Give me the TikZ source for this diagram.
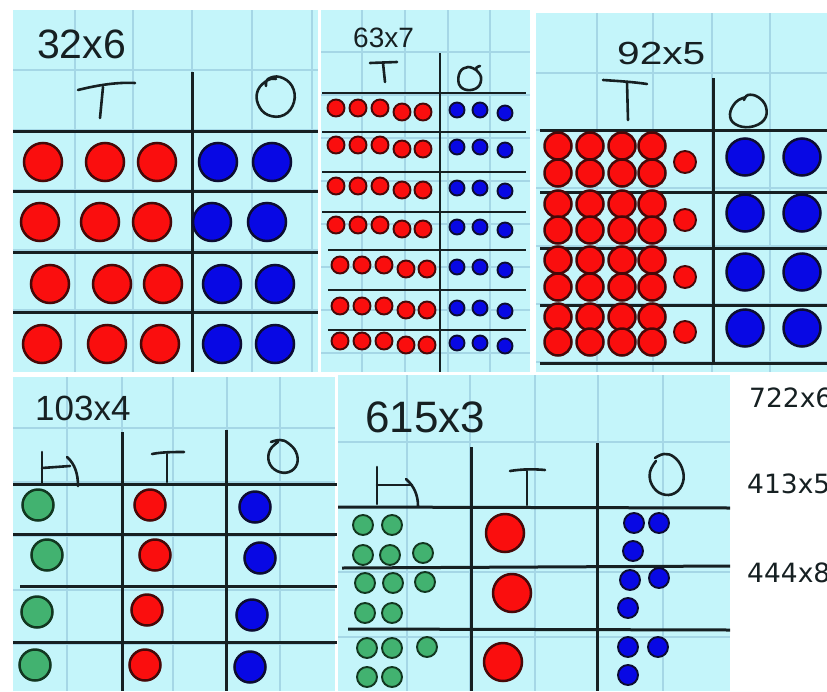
\documentclass[tikz,border=0pt]{standalone}
\usepackage{fontspec}
\setmainfont{Liberation Sans}
\newfontfamily\dvfont{DejaVu Sans}
\definecolor{bgc}{RGB}{196,245,250}
\definecolor{gridc}{RGB}{165,215,230}
\definecolor{inkc}{RGB}{22,32,34}
\definecolor{redf}{RGB}{250,14,14}
\definecolor{redo}{RGB}{70,8,8}
\definecolor{bluef}{RGB}{8,8,228}
\definecolor{blueo}{RGB}{12,12,50}
\definecolor{greenf}{RGB}{66,178,112}
\definecolor{greeno}{RGB}{18,55,32}
\tikzset{
  panel/.style={fill=bgc, draw=none},
  gridl/.style={draw=gridc, line width=1.2pt},
  rule/.style={draw=inkc, line width=3pt},
  thinrule/.style={draw=inkc, line width=2.4pt},
  hand/.style={draw=inkc, line width=2.6pt, line cap=round, line join=round},
  rdot/.style={fill=redf, draw=redo, line width=2.5pt},
  bdot/.style={fill=bluef, draw=blueo, line width=2.5pt},
  gdot/.style={fill=greenf, draw=greeno, line width=2.5pt},
  smalldot/.style={line width=1.9pt},
  lbl/.style={anchor=base west, inner sep=0, text=inkc},
}
\begin{document}
\begin{tikzpicture}[x=1pt,y=-1pt]
\useasboundingbox (0,0) rectangle (827,691);
\clip (0,0) rectangle (827,691);
\fill[white] (0,0) rectangle (827,691);

% ---------------- Panel A : 32x6 ----------------
\fill[panel] (13,10) rectangle (318,372);
\begin{scope}
  \clip (13,10) rectangle (318,372);
  \foreach \x in {75,133,192,252,312} \draw[gridl] (\x,10) -- (\x,372);
  \foreach \y in {70,130,190,250,310} \draw[gridl] (13,\y) -- (318,\y);
\end{scope}
\node[lbl, font=\fontsize{41}{41}\selectfont] (atitle) at (37,58) {32x6};
\draw[rule] (192,72) -- (192,372);
\foreach \y in {131,191,252,312} \draw[rule] (13,\y) -- (318,\y);
\draw[hand] (78,90) .. controls (98,85) and (118,82) .. (135,83);
\draw[hand] (103,87) -- (100,118);
\draw[hand] plot[smooth, tension=0.7] coordinates {(266,86) (268,79) (280,77) (292,86) (294,102) (284,115) (268,115) (258,104) (258,90) (268,80) (276,79)};
\foreach \x/\y in {43/162,105/162,157/162, 40/222,100/222,152/222, 50/284,112/284,163/284, 42/344,107/344,160/344}
  \draw[rdot] (\x,\y) circle (19pt);
\foreach \x/\y in {218/162,272/162, 212/222,267/222, 222/284,275/284, 222/344,275/344}
  \draw[bdot] (\x,\y) circle (19pt);

% ---------------- Panel B : 63x7 ----------------
\fill[panel] (321,10) rectangle (530,372);
\begin{scope}
  \clip (321,10) rectangle (530,372);
  \foreach \x in {362,405,448,490} \draw[gridl] (\x,10) -- (\x,372);
  \foreach \y in {52,95,138,181,224,267,310,353} \draw[gridl] (321,\y) -- (530,\y);
\end{scope}
\node[lbl, font=\fontsize{28}{28}\selectfont] (btitle) at (353,47) {63x7};
\draw[thinrule] (440,53) -- (440,372);
\foreach \y in {93,132,172,212} \draw[thinrule] (322,\y) -- (526,\y);
\foreach \y in {250,290,330} \draw[thinrule] (328,\y) -- (526,\y);
\draw[hand] (370,63) -- (397,62);
\draw[hand] (383,63) -- (385,82);
\draw[hand] plot[smooth, tension=0.7] coordinates {(476,70) (468,67) (460,72) (459,84) (467,90) (478,87) (481,77) (476,69) (480,66)};
\foreach \y/\s in {110/0,147/0,188/0,227/0,267/4,308/4,343/4} {
  \foreach \x in {336,358,380} \draw[rdot, smalldot] (\x+\s,\y-2) circle (8.5pt);
  \foreach \x in {402,423} \draw[rdot, smalldot] (\x+\s,\y+2) circle (8.5pt);
  \foreach \x in {457,480} \draw[bdot, smalldot] (\x,\y) circle (7.5pt);
  \draw[bdot, smalldot] (505,\y+3) circle (7.5pt);
}

% ---------------- Panel C : 92x5 ----------------
\fill[panel] (536,13) rectangle (827,372);
\begin{scope}
  \clip (536,13) rectangle (827,372);
  \foreach \x in {597,653,712,770} \draw[gridl] (\x,13) -- (\x,372);
  \foreach \y in {73,130,188,246,304,362} \draw[gridl] (536,\y) -- (827,\y);
\end{scope}
\node[lbl, font=\fontsize{32}{32}\selectfont] (ctitle) at (617,64) {\scalebox{1.27}[1]{92x5}};
\draw[rule] (713,78) -- (713,363);
\foreach \y in {130,192,248,305,363} \draw[rule] (540,\y) -- (827,\y);
\draw[hand] (603,80) .. controls (618,81) and (634,82) .. (647,84);
\draw[hand] (627,82) -- (628,120);
\draw[hand] plot[smooth, tension=0.7] coordinates {(744,100) (748,95) (758,97) (766,107) (764,120) (750,127) (735,124) (730,114) (736,102) (746,97)};
\foreach \a/\b/\m in {146/173/162, 204/230/220, 260/287/277, 317/342/332} {
  \foreach \x in {558,590,622,652} {
    \draw[rdot] (\x,\a) circle (13.5pt);
    \draw[rdot] (\x,\b) circle (13.5pt);
  }
  \draw[rdot, smalldot] (685,\m) circle (11pt);
}
\foreach \y in {157,213,272,328} {
  \draw[bdot] (745,\y) circle (18.5pt);
  \draw[bdot] (802,\y) circle (18.5pt);
}

% ---------------- Panel D : 103x4 ----------------
\fill[panel] (13,377) rectangle (335,691);
\begin{scope}
  \clip (13,377) rectangle (335,691);
  \foreach \x in {67,122,173,227,280} \draw[gridl] (\x,377) -- (\x,691);
  \foreach \y in {428,482,536,590,644} \draw[gridl] (13,\y) -- (335,\y);
\end{scope}
\node[lbl, font=\fontsize{35}{35}\selectfont] (dtitle) at (35,420) {103x4};
\draw[rule] (122,432) -- (122,691);
\draw[rule] (226,430) -- (226,691);
\draw[rule] (13,484) -- (337,484);
\draw[rule] (13,534) -- (337,534);
\draw[rule] (20,586) -- (337,586);
\draw[rule] (13,642) -- (337,642);
\draw[hand] (42,452) -- (42,483);
\draw[hand] (42,468) -- (70,466);
\draw[hand] (67,457) .. controls (75,464) and (78,474) .. (78,486);
\draw[hand] (152,454) .. controls (162,452) and (174,452) .. (184,452);
\draw[hand] (167,454) -- (167,482);
\draw[hand] plot[smooth, tension=0.7] coordinates {(271,442) (280,440) (288,443) (296,452) (297,464) (289,472) (277,471) (269,462) (270,450) (278,442)};
\foreach \x/\y in {38/505,47/555,37/612,35/665} \draw[gdot] (\x,\y) circle (15.5pt);
\foreach \x/\y in {150/505,155/555,147/610,145/665} \draw[rdot] (\x,\y) circle (15.5pt);
\foreach \x/\y in {255/507,260/558,252/615,250/667} \draw[bdot] (\x,\y) circle (15.5pt);

% ---------------- Panel E : 615x3 ----------------
\fill[panel] (338,375) rectangle (730,691);
\begin{scope}
  \clip (338,375) rectangle (730,691);
  \foreach \x in {407,470,535,598,663} \draw[gridl] (\x,375) -- (\x,691);
  \foreach \y in {442,507,572,637} \draw[gridl] (338,\y) -- (730,\y);
\end{scope}
\node[lbl, font=\fontsize{44}{44}\selectfont] (etitle) at (365,432) {615x3};
\draw[rule] (471,447) -- (471,691);
\draw[rule] (597,443) -- (597,691);
\draw[rule] (338,507) -- (730,508);
\draw[rule] (342,568) -- (730,566);
\draw[rule] (348,629) -- (730,630);
\draw[hand] (377,467) -- (377,504);
\draw[hand] (377,485) -- (412,485);
\draw[hand] (406,479) .. controls (414,486) and (418,495) .. (418,506);
\draw[hand] (510,471) .. controls (522,469) and (535,469) .. (545,470);
\draw[hand] (527,471) -- (527,505);
\draw[hand] plot[smooth, tension=0.7] coordinates {(655,458) (664,454) (674,457) (682,468) (683,482) (675,493) (662,494) (652,485) (650,472) (656,461)};
\foreach \x/\y in {363/525,392/525, 363/555,390/555,423/553,
                   365/583,393/583,425/582, 365/613,392/613,
                   367/648,392/648,427/647, 367/677,392/677}
  \draw[gdot, smalldot] (\x,\y) circle (10pt);
\foreach \x/\y in {505/533,512/593,503/662} \draw[rdot] (\x,\y) circle (19pt);
\foreach \x/\y in {634/523,659/523,633/551, 630/580,659/578,628/608, 628/647,658/647,628/675}
  \draw[bdot, smalldot] (\x,\y) circle (10pt);

% ---------------- Right side text ----------------
\node[lbl, font=\dvfont\fontsize{26.5}{26.5}\selectfont] (t722) at (749,407) {722x6};
\node[lbl, font=\dvfont\fontsize{26.5}{26.5}\selectfont] (t413) at (747,493) {413x5};
\node[lbl, font=\dvfont\fontsize{26.5}{26.5}\selectfont] (t444) at (747,582) {444x8};
\end{tikzpicture}
\end{document}
